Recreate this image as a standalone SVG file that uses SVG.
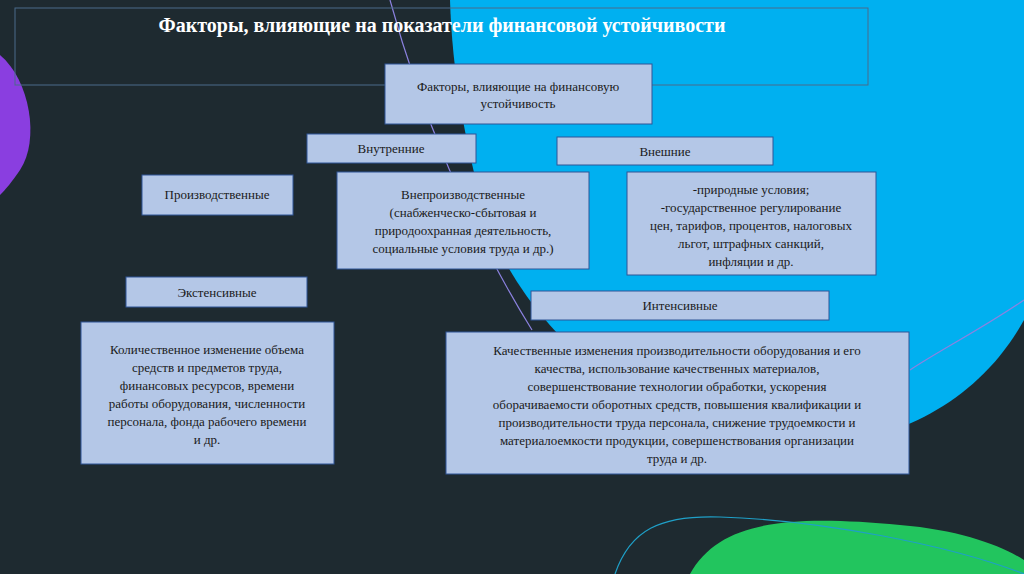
<svg xmlns="http://www.w3.org/2000/svg" width="1024" height="574" viewBox="0 0 1024 574">
<style>
.b{fill:#b4c7e7;stroke:#2f5597;stroke-width:1}
.t{font-family:"Liberation Serif",serif;font-size:13px;fill:#1a1a1a;text-anchor:middle}
</style>
<rect width="1024" height="574" fill="#1e2a30"/>
<path d="M450,0 L1024,0 L1024,320 C980,400 900,440 820,445 C650,450 530,330 490,230 C465,150 452,70 450,0 Z" fill="#00b0f0"/>
<path d="M0,55 C30,80 40,140 20,170 C12,182 5,190 0,195 Z" fill="#8a3ee0"/>
<path d="M690,574 C720,520 790,515 900,525 C960,530 1000,545 1024,560 L1024,574 Z" fill="#22c55e"/>
<path d="M390,0 C420,110 470,230 532,330" fill="none" stroke="#8c82e0" stroke-width="1.2"/>
<path d="M1024,300 C980,330 940,350 910,370" fill="none" stroke="#8c82e0" stroke-width="1.2"/>
<path d="M615,574 C630,530 660,515 720,517 C820,520 950,545 1024,574" fill="none" stroke="#1fa0c8" stroke-width="1.2"/>
<rect x="15" y="8" width="853" height="77" fill="none" stroke="#4a6a8a" stroke-width="1"/>
<text x="442" y="32" font-family="Liberation Serif,serif" font-size="20" font-weight="bold" fill="#fff" text-anchor="middle">Факторы, влияющие на показатели финансовой устойчивости</text>
<g id="root"><rect class="b" x="385" y="64" width="267" height="60"/><text class="t" x="518" y="91">Факторы, влияющие на финансовую</text><text class="t" x="518" y="108">устойчивость</text></g>
<g id="int"><rect class="b" x="307" y="134" width="169" height="29"/><text class="t" x="391" y="153">Внутренние</text></g>
<g id="ext"><rect class="b" x="557" y="137" width="216" height="28"/><text class="t" x="665" y="156">Внешние</text></g>
<g id="prod"><rect class="b" x="142" y="175" width="151" height="40"/><text class="t" x="217" y="199">Производственные</text></g>
<g id="nonprod"><rect class="b" x="337" y="172" width="252" height="97"/>
<text class="t" x="463" y="199">Внепроизводственные</text><text class="t" x="463" y="217">(снабженческо-сбытовая и</text><text class="t" x="463" y="235">природоохранная деятельность,</text><text class="t" x="463" y="253">социальные условия труда и др.)</text></g>
<g id="extf"><rect class="b" x="627" y="172" width="249" height="103"/>
<text class="t" x="751" y="194">-природные условия;</text><text class="t" x="751" y="212">-государственное регулирование</text><text class="t" x="751" y="230">цен, тарифов, процентов, налоговых</text><text class="t" x="751" y="248">льгот, штрафных санкций,</text><text class="t" x="751" y="266">инфляции и др.</text></g>
<g id="extens"><rect class="b" x="126" y="277" width="181" height="30"/><text class="t" x="217" y="297">Экстенсивные</text></g>
<g id="intens"><rect class="b" x="531" y="291" width="298" height="29"/><text class="t" x="680" y="310">Интенсивные</text></g>
<g id="extdesc"><rect class="b" x="81" y="322" width="253" height="142"/>
<text class="t" x="207" y="354">Количественное изменение объема</text><text class="t" x="207" y="372">средств и предметов труда,</text><text class="t" x="207" y="390">финансовых ресурсов, времени</text><text class="t" x="207" y="408">работы оборудования, численности</text><text class="t" x="207" y="426">персонала, фонда рабочего времени</text><text class="t" x="207" y="444">и др.</text></g>
<g id="intdesc"><rect class="b" x="446" y="332" width="463" height="142"/>
<text class="t" x="677" y="355">Качественные изменения производительности оборудования и его</text><text class="t" x="677" y="373">качества, использование качественных материалов,</text><text class="t" x="677" y="391">совершенствование технологии обработки, ускорения</text><text class="t" x="677" y="409">оборачиваемости оборотных средств, повышения квалификации и</text><text class="t" x="677" y="427">производительности труда персонала, снижение трудоемкости и</text><text class="t" x="677" y="445">материалоемкости продукции, совершенствования организации</text><text class="t" x="677" y="463">труда и др.</text></g>
</svg>
